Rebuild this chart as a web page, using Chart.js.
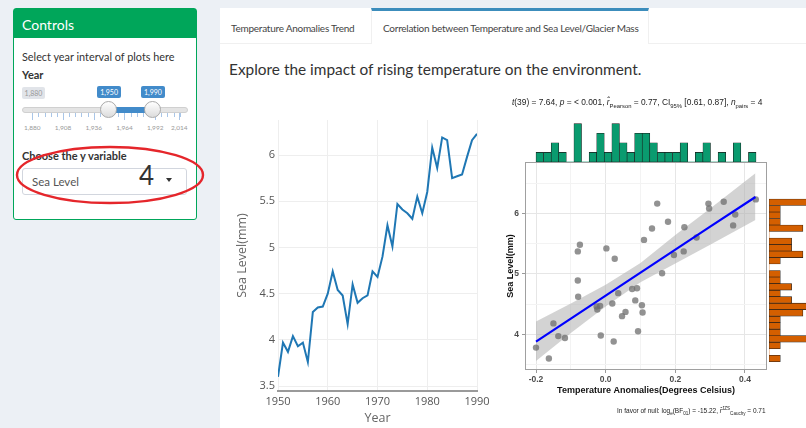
<!DOCTYPE html>
<html lang="en">
<head>
<meta charset="UTF-8">
<title>Sea level and temperature</title>
<script src="https://cdn.jsdelivr.net/npm/chart.js"></script>
<style>
  body { margin:0; width:806px; height:428px; overflow:hidden; position:relative;
         background:#ecf0f5; font-family: Lato, sans-serif; color:#333; }
  .t { position:absolute; white-space:nowrap; line-height:1; }
  canvas { position:absolute; }
  #box { position:absolute; left:13px; top:8px; width:182px; height:210px; background:#fff;
         border:1px solid #00a65a; border-radius:3px; }
  #boxhead { position:absolute; left:0; top:0; width:182px; height:29px; background:#00a65a; }
  .abs { position:absolute; }
  .lbl { position:absolute; font-size:7px; line-height:12px; height:12px; text-align:center; border-radius:2px; }
  .handle { position:absolute; width:15px; height:15px; border-radius:50%; border:1px solid #aaa;
            background:linear-gradient(#fff,#dcdcdc); }
  #tabbox { position:absolute; left:220px; top:8px; width:600px; height:430px; background:#fff; }
  .tab { font-size:10px; letter-spacing:-0.25px; color:#444; }
  sub, sup { font-size:70%; line-height:0; }
  .gg { font-family:"Liberation Sans", Arial, sans-serif; color:#222; }
</style>
</head>
<body>

<div id="box">
  <div id="boxhead"></div>
</div>
<div class="t" style="left:22px;top:18px;font-size:14px;color:#fff;">Controls</div>
<div class="t" style="left:22px;top:52px;font-size:10.85px;color:#333;">Select year interval of plots here</div>
<div class="t" style="left:22px;top:69px;font-size:11px;font-weight:bold;color:#333;">Year</div>

<div id="slider"></div>

<div class="t" style="left:22px;top:150px;font-size:11px;font-weight:bold;color:#333;">Choose the y variable</div>
<div class="abs" style="left:22px;top:168px;width:163px;height:25px;border:1px solid #d2d6de;border-radius:3px;background:#fff;"></div>
<div class="t" style="left:32px;top:176px;font-size:11.5px;color:#555;">Sea Level</div>
<div class="t" style="left:139px;top:162px;font-size:26px;color:#333;">4</div>
<div class="abs" style="left:166px;top:178px;width:0;height:0;border-left:3.5px solid transparent;border-right:3.5px solid transparent;border-top:4px solid #333;"></div>

<svg class="abs" style="left:0;top:0;" width="806" height="428">
  <ellipse cx="110" cy="175" rx="93" ry="28" fill="none" stroke="#e5262b" stroke-width="2.4"></ellipse>
</svg>

<div id="tabbox">
  <div class="abs" style="left:0;top:35px;width:600px;height:1px;background:#f0f0f0;"></div>
  <div class="abs" style="left:151px;top:0;width:278px;height:36px;background:#fff;border-top:3px solid #3c8dbc;box-sizing:border-box;border-left:1px solid #f0f0f0;border-right:1px solid #f0f0f0;"></div>
</div>
<div class="t tab" style="left:231px;top:23px;">Temperature Anomalies Trend</div>
<div class="t tab" style="left:383px;top:23px;">Correlation between Temperature and Sea Level/Glacier Mass</div>
<div class="t" style="left:229px;top:62px;font-size:15.4px;color:#333;">Explore the impact of rising temperature on the environment.</div>

<canvas id="lineChart" width="280" height="318" style="left:222px;top:110px;"></canvas>
<canvas id="scatterChart" width="272" height="250" style="left:500px;top:150px;"></canvas>
<canvas id="topHist" width="242" height="52" style="left:525px;top:110px;"></canvas>
<canvas id="rightHist" width="80" height="208" style="left:767px;top:162px;"></canvas>

<div class="t gg" style="left:512px;top:98px;font-size:8.4px;">
  <i>t</i>(39) = 7.64, <i>p</i> = &lt; 0.001, <i>r&#770;</i><sub>Pearson</sub> = 0.77, CI<sub>95%</sub> [0.61, 0.87], <i>n</i><sub>pairs</sub> = 4
</div>
<div class="t gg" style="left:617px;top:408px;font-size:6.5px;">
  In favor of null: log<sub>e</sub>(BF<sub>01</sub>) = -15.22, <i>r&#770;</i><sup>JZS</sup><sub>Cauchy</sub> = 0.71
</div>

<script>
// ---- data ----
const years = [1950, 1951, 1952, 1953, 1954, 1955, 1956, 1957, 1958, 1959,
               1960, 1961, 1962, 1963, 1964, 1965, 1966, 1967, 1968, 1969,
               1970, 1971, 1972, 1973, 1974, 1975, 1976, 1977, 1978, 1979,
               1980, 1981, 1982, 1983, 1984, 1985, 1986, 1987, 1988, 1989, 1990];
const seaLevel = [3.60, 3.97, 3.87, 4.04, 3.93, 3.97, 3.76, 4.30, 4.35, 4.36,
                  4.50, 4.74, 4.54, 4.48, 4.17, 4.60, 4.40, 4.45, 4.48, 4.74,
                  4.68, 4.90, 5.24, 5.01, 5.47, 5.41, 5.37, 5.31, 5.55, 5.37,
                  5.60, 6.08, 5.86, 6.19, 6.16, 5.75, 5.77, 5.79, 5.98, 6.16, 6.23];

const tempAnomaly = [-0.200, -0.163, -0.150, -0.136, -0.117, -0.080, -0.074, -0.080, -0.079, -0.026,
                     -0.024, -0.016, -0.014, 0.002, 0.019, 0.023, 0.026, 0.036, 0.047, 0.057,
                     0.076, 0.085, 0.090, 0.093, 0.104, 0.106, 0.110, 0.133, 0.148, 0.162,
                     0.179, 0.196, 0.226, 0.224, 0.261, 0.295, 0.297, 0.339, 0.372, 0.366, 0.431];
const scatterLevel = [3.78, 3.60, 4.18, 3.97, 3.94, 5.37, 5.48, 4.89, 4.62, 4.46,
                      4.41, 4.47, 3.98, 5.42, 4.51, 3.88, 5.25, 4.68, 4.30, 4.37,
                      4.75, 4.56, 4.76, 4.05, 4.48, 4.36, 5.56, 5.75, 6.16, 5.01,
                      5.86, 5.31, 5.77, 5.37, 5.60, 6.16, 6.08, 6.19, 5.98, 5.80, 6.23];

// regression line and 95% band, read at a few x positions
const fitX    = [-0.2, -0.1, 0.0, 0.1, 0.2, 0.3, 0.43];
const fitY    = [3.88, 4.26, 4.64, 5.02, 5.40, 5.78, 6.27];
const bandLow = [3.56, 4.02, 4.46, 4.86, 5.17, 5.48, 5.89];
const bandHigh= [4.21, 4.51, 4.82, 5.18, 5.64, 6.08, 6.66];

// marginal histograms
const tempBins = [-0.1891, -0.1673, -0.1455, -0.1238, -0.1020, -0.0802, -0.0584, -0.0366, -0.0149, 0.0069,
                  0.0287, 0.0505, 0.0723, 0.0941, 0.1158, 0.1376, 0.1594, 0.1812, 0.2030, 0.2247,
                  0.2465, 0.2683, 0.2901, 0.3119, 0.3337, 0.3554, 0.3772, 0.3990, 0.4208];
const tempCounts = [1, 1, 2, 1, 0, 4, 0, 1, 3, 1, 4, 2, 1, 3, 3, 2, 1, 1, 1, 2, 0, 1, 2, 0, 1, 0, 2, 0, 1];
const levelBins = [3.601, 3.709, 3.816, 3.924, 4.031, 4.139, 4.247, 4.354, 4.462, 4.569,
                   4.677, 4.785, 4.892, 5.000, 5.107, 5.215, 5.322, 5.430, 5.537, 5.645,
                   5.753, 5.860, 5.968, 6.075, 6.183];
const levelCounts = [1, 0, 1, 4, 1, 1, 1, 3, 4, 2, 1, 2, 1, 1, 0, 1, 3, 2, 2, 0, 3, 1, 1, 1, 4];

// slider
const sliderTicks = [1880, 1908, 1936, 1964, 1992, 2014];
const sliderRange = [1950, 1990];

// ---- slider widget ----
(function () {
  const s = document.getElementById('slider');
  const px = y => 32.3 + (y - 1880) * 1.097;
  let html = '';
  html += '<div class="abs" style="left:22px;top:107px;width:164px;height:4px;background:#e4e4e4;border:1px solid #d0d0d0;border-radius:3px;"></div>';
  html += `<div class="abs" style="left:${px(sliderRange[0])}px;top:107px;width:${px(sliderRange[1]) - px(sliderRange[0])}px;height:6px;background:#428bca;"></div>`;
  for (let k = 0; k <= 24; k++) {
    const y = 1880 + k * 5.6;
    if (y > 2014.5) break;
    const major = k % 5 === 0;
    html += `<div class="abs" style="left:${px(y)}px;top:113px;width:1px;height:${major ? 7 : 4}px;background:#a9c6e8;"></div>`;
  }
  html += `<div class="abs" style="left:${px(2014)}px;top:113px;width:1px;height:7px;background:#a9c6e8;"></div>`;
  sliderTicks.forEach(y => {
    html += `<div class="t" style="left:${px(y) - 12}px;width:24px;text-align:center;top:124.5px;font-size:6.5px;color:#999;">${y.toLocaleString('en-US')}</div>`;
  });
  html += '<div class="lbl" style="left:22px;top:87px;width:23px;background:#e1e4e9;color:#999;">1,880</div>';
  sliderRange.forEach(y => {
    html += `<div class="lbl" style="left:${px(y) - 12}px;top:86px;width:24px;background:#428bca;color:#fff;">${y.toLocaleString('en-US')}</div>`;
    html += `<div class="handle" style="left:${px(y) - 9}px;top:101px;"></div>`;
  });
  s.innerHTML = html;
})();

// ---- plotly-like line chart ----
new Chart(document.getElementById('lineChart'), {
  type: 'line',
  data: {
    datasets: [{
      data: years.map((y, i) => ({ x: y, y: seaLevel[i] })),
      borderColor: '#1f77b4',
      borderWidth: 2,
      pointRadius: 0,
      tension: 0
    }]
  },
  options: {
    responsive: false,
    animation: false,
    layout: { padding: { top: 10, right: 25, left: 0, bottom: 0 } },
    plugins: { legend: { display: false }, tooltip: { enabled: false } },
    scales: {
      x: {
        type: 'linear', min: 1950, max: 1990,
        afterFit: s => { s.height = 37; },
        ticks: { stepSize: 10, padding: 4, color: '#555', font: { family: 'Open Sans', size: 11 }, callback: v => String(v) },
        grid: { color: '#eeeeee', drawTicks: false },
        border: { display: true, color: '#9a9a9a', width: 2 },
        title: { display: true, text: 'Year', color: '#666', font: { family: 'Open Sans', size: 12.5 }, padding: { top: 0, bottom: 2 } }
      },
      y: {
        min: 3.446, max: 6.379,
        afterFit: s => { s.width = 56; },
        ticks: { stepSize: 0.5, includeBounds: false, padding: 3, color: '#555', font: { family: 'Open Sans', size: 11 },
                 callback: v => String(Math.round(v * 10) / 10) },
        grid: { color: '#eeeeee', drawTicks: false },
        border: { display: false },
        title: { display: true, text: 'Sea Level(mm)', color: '#666', font: { family: 'Open Sans', size: 12.5 }, padding: { top: 13, bottom: 0 } }
      }
    }
  }
});

// ---- ggplot-like scatter ----
const panelBorder = {
  id: 'panelBorder',
  afterDatasetsDraw(chart) {
    const { ctx, chartArea: a } = chart;
    ctx.save();
    ctx.strokeStyle = '#a0a0a0';
    ctx.lineWidth = 1;
    ctx.strokeRect(a.left + 0.5, a.top + 0.5, a.right - a.left - 1, a.bottom - a.top - 1);
    ctx.restore();
  }
};

const isMajorX = v => Math.abs(Math.round(v * 10)) % 2 === 0;
const isMajorY = v => Math.abs(v - Math.round(v)) < 1e-6;

new Chart(document.getElementById('scatterChart'), {
  type: 'line',
  data: {
    datasets: [
      {
        data: fitX.map((x, i) => ({ x, y: bandHigh[i] })),
        borderWidth: 0, pointRadius: 0, fill: '+1',
        backgroundColor: 'rgba(175,175,175,0.55)', order: 3
      },
      {
        data: fitX.map((x, i) => ({ x, y: bandLow[i] })),
        borderWidth: 0, pointRadius: 0, fill: false, order: 3
      },
      {
        data: tempAnomaly.map((x, i) => ({ x, y: scatterLevel[i] })),
        showLine: false, pointRadius: 3.2, pointBorderWidth: 0,
        pointBackgroundColor: 'rgba(110,110,110,0.75)', order: 2
      },
      {
        data: fitX.map((x, i) => ({ x, y: fitY[i] })),
        borderColor: '#0000ff', borderWidth: 2.2, pointRadius: 0, order: 1
      }
    ]
  },
  options: {
    responsive: false,
    animation: false,
    layout: { padding: { top: 12, right: 5, left: 0, bottom: 0 } },
    plugins: { legend: { display: false }, tooltip: { enabled: false } },
    scales: {
      x: {
        type: 'linear', min: -0.2316, max: 0.4632,
        afterFit: s => { s.height = 30; },
        ticks: {
          stepSize: 0.1, includeBounds: false, padding: 2, color: '#4d4d4d',
          font: { family: 'Liberation Sans', size: 8.5, weight: 'bold' },
          callback: v => isMajorX(v) ? v.toFixed(1) : ''
        },
        grid: {
          color: ctx => isMajorX(ctx.tick.value) ? '#e6e6e6' : '#f3f3f3',
          tickColor: ctx => isMajorX(ctx.tick.value) ? '#999' : 'rgba(0,0,0,0)',
          tickLength: 3
        },
        border: { display: false },
        title: { display: true, text: 'Temperature Anomalies(Degrees Celsius)', color: '#111',
                 font: { family: 'Liberation Sans', size: 9, weight: 'bold' }, padding: { top: 0, bottom: 4 } }
      },
      y: {
        min: 3.41, max: 6.848,
        afterFit: s => { s.width = 25; },
        ticks: {
          stepSize: 0.5, includeBounds: false, padding: 3, color: '#4d4d4d',
          font: { family: 'Liberation Sans', size: 8.5, weight: 'bold' },
          callback: v => isMajorY(v) ? String(v) : ''
        },
        grid: {
          color: ctx => isMajorY(ctx.tick.value) ? '#e6e6e6' : '#f3f3f3',
          tickColor: ctx => isMajorY(ctx.tick.value) ? '#999' : 'rgba(0,0,0,0)',
          tickLength: 3
        },
        border: { display: false },
        title: { display: true, text: 'Sea Level(mm)', color: '#111',
                 font: { family: 'Liberation Sans', size: 9, weight: 'bold' }, padding: { top: 5, bottom: 0 } }
      }
    }
  },
  plugins: [panelBorder]
});

// ---- marginal histograms ----
new Chart(document.getElementById('topHist'), {
  type: 'bar',
  data: {
    datasets: [{
      data: tempBins.map((x, i) => ({ x, y: tempCounts[i] })),
      backgroundColor: '#0a9b6f',
      borderColor: '#1a1a1a',
      borderWidth: ctx => (ctx.raw && ctx.raw.y > 0 ? 0.6 : 0),
      borderSkipped: false,
      barPercentage: 1, categoryPercentage: 1
    }]
  },
  options: {
    responsive: false,
    animation: false,
    layout: { padding: 0 },
    plugins: { legend: { display: false }, tooltip: { enabled: false } },
    scales: {
      x: { type: 'linear', min: -0.2316, max: 0.4632, offset: false, display: false },
      y: { min: 0, max: 5.42, display: false }
    }
  }
});

new Chart(document.getElementById('rightHist'), {
  type: 'bar',
  data: {
    datasets: [{
      data: levelBins.map((y, i) => ({ x: levelCounts[i], y })),
      backgroundColor: '#d45f00',
      borderColor: '#1a1a1a',
      borderWidth: ctx => (ctx.raw && ctx.raw.x > 0 ? 0.6 : 0),
      borderSkipped: false,
      barPercentage: 1, categoryPercentage: 1
    }]
  },
  options: {
    indexAxis: 'y',
    responsive: false,
    animation: false,
    layout: { padding: { left: 2 } },
    plugins: { legend: { display: false }, tooltip: { enabled: false } },
    scales: {
      y: { type: 'linear', min: 3.41, max: 6.848, offset: false, display: false },
      x: { min: 0, max: 6.9, display: false }
    }
  }
});
</script>
</body>
</html>
